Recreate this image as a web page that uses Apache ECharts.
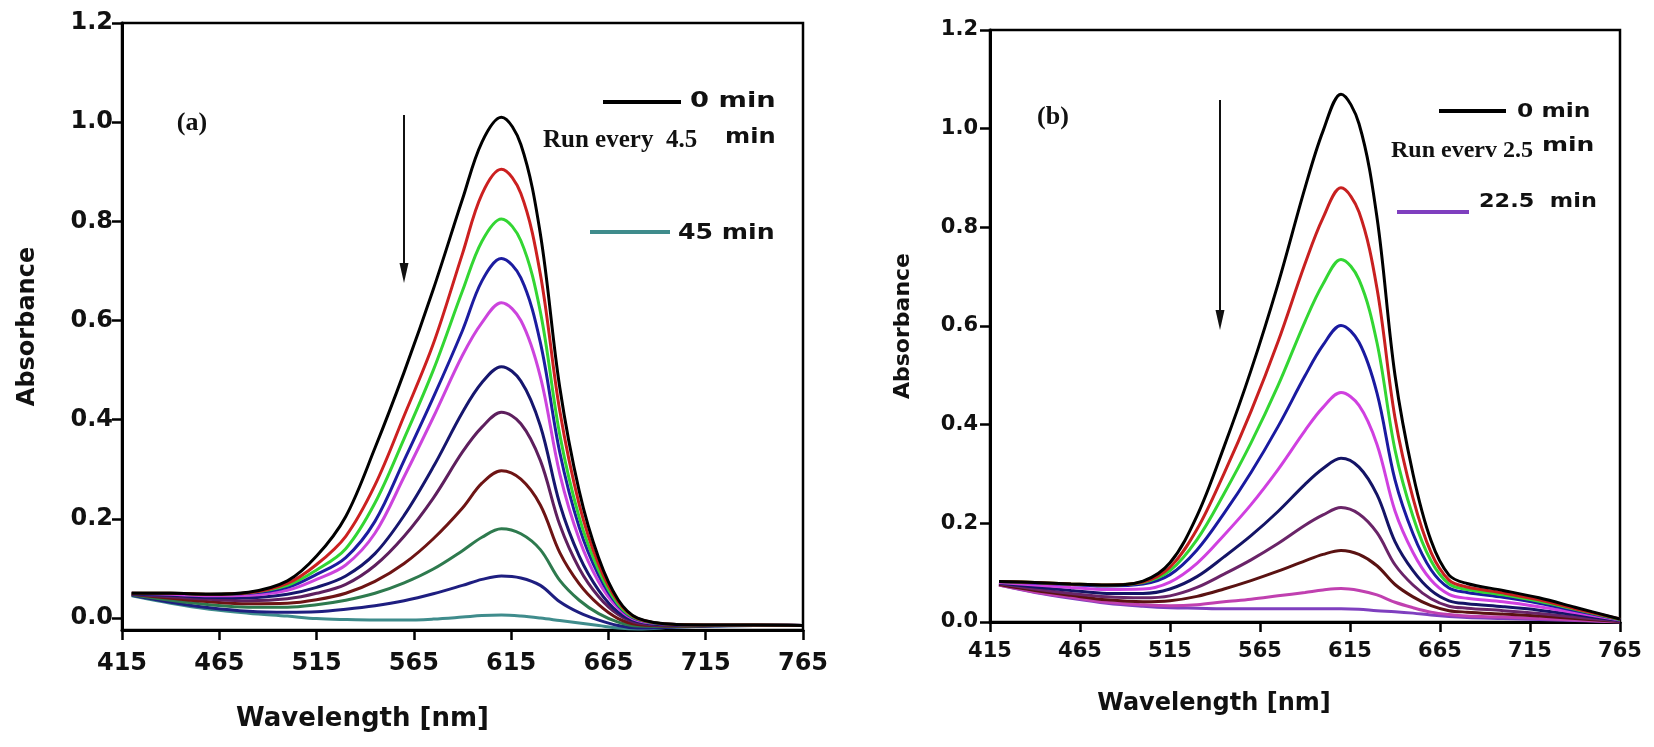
<!DOCTYPE html>
<html>
<head>
<meta charset="utf-8">
<title>Absorbance spectra (a) and (b)</title>
<script src="https://cdn.jsdelivr.net/npm/echarts@6/dist/echarts.min.js"></script>
<style>
  html, body { margin: 0; padding: 0; background: #fff; }
  #chart { width: 1654px; height: 747px; }
</style>
</head>
<body>
<div id="chart"></div>
<script>
// wavelength grid (nm), shared by every spectrum
var wl = [420, 440, 460, 480, 500, 515, 530, 545, 560, 575, 590, 600, 610, 620, 630, 640, 650, 660, 670, 680, 700, 720, 740, 765];

// panel (a): run every 4.5 min, 0 -> 45 min
var a0  = [0.050, 0.050, 0.048, 0.052, 0.075, 0.125, 0.205, 0.343, 0.496, 0.663, 0.845, 0.960, 1.010, 0.955, 0.775, 0.465, 0.256, 0.121, 0.037, 0.000, -0.013, -0.014, -0.014, -0.015];
var a1  = [0.050, 0.050, 0.048, 0.051, 0.070, 0.108, 0.165, 0.268, 0.408, 0.553, 0.735, 0.855, 0.905, 0.856, 0.694, 0.418, 0.229, 0.108, 0.033, -0.001, -0.013, -0.014, -0.014, -0.015];
var a2  = [0.050, 0.050, 0.048, 0.051, 0.066, 0.097, 0.140, 0.232, 0.362, 0.500, 0.660, 0.760, 0.805, 0.761, 0.618, 0.370, 0.203, 0.096, 0.028, -0.002, -0.013, -0.014, -0.014, -0.015];
var a3  = [0.050, 0.050, 0.048, 0.050, 0.062, 0.088, 0.122, 0.195, 0.318, 0.445, 0.580, 0.680, 0.725, 0.686, 0.556, 0.334, 0.183, 0.086, 0.025, -0.003, -0.013, -0.014, -0.014, -0.015];
var a4  = [0.050, 0.048, 0.045, 0.046, 0.056, 0.078, 0.107, 0.171, 0.285, 0.405, 0.530, 0.596, 0.636, 0.600, 0.487, 0.291, 0.159, 0.073, 0.020, -0.005, -0.013, -0.014, -0.014, -0.015];
var a5  = [0.049, 0.046, 0.042, 0.041, 0.048, 0.062, 0.085, 0.130, 0.207, 0.305, 0.415, 0.475, 0.507, 0.478, 0.388, 0.230, 0.125, 0.056, 0.012, -0.007, -0.014, -0.014, -0.014, -0.015];
var a6  = [0.048, 0.043, 0.038, 0.035, 0.039, 0.050, 0.068, 0.106, 0.165, 0.242, 0.335, 0.385, 0.415, 0.392, 0.318, 0.188, 0.100, 0.043, 0.007, -0.010, -0.015, -0.015, -0.014, -0.015];
var a7  = [0.048, 0.040, 0.033, 0.029, 0.030, 0.037, 0.050, 0.074, 0.110, 0.160, 0.222, 0.272, 0.297, 0.280, 0.228, 0.132, 0.069, 0.027, -0.001, -0.013, -0.016, -0.015, -0.015, -0.015];
var a8  = [0.047, 0.036, 0.027, 0.022, 0.022, 0.027, 0.036, 0.050, 0.071, 0.099, 0.136, 0.163, 0.180, 0.170, 0.138, 0.076, 0.036, 0.009, -0.008, -0.016, -0.017, -0.015, -0.015, -0.015];
var a9  = [0.046, 0.032, 0.021, 0.014, 0.012, 0.013, 0.018, 0.025, 0.035, 0.049, 0.066, 0.078, 0.085, 0.081, 0.066, 0.033, 0.011, -0.004, -0.015, -0.020, -0.018, -0.016, -0.015, -0.015];
var a10 = [0.045, 0.030, 0.018, 0.010, 0.004, -0.001, -0.003, -0.004, -0.004, -0.002, 0.002, 0.005, 0.006, 0.004, 0.000, -0.005, -0.010, -0.015, -0.020, -0.022, -0.018, -0.016, -0.015, -0.015];
var aRuns = [a0, a1, a2, a3, a4, a5, a6, a7, a8, a9, a10];
var aNames = ['0 min', '4.5 min', '9 min', '13.5 min', '18 min', '22.5 min', '27 min', '31.5 min', '36 min', '40.5 min', '45 min'];
var aColors = ['#000000', '#cc2020', '#33d633', '#1c1ca0', '#cc44dd', '#16166e', '#5e1f5e', '#6e1414', '#2e7a4e', '#1e1e80', '#3f8c8c'];

// panel (b): run every 2.5 min, 0 -> 22.5 min
var b0 = [0.082, 0.080, 0.077, 0.075, 0.083, 0.120, 0.215, 0.355, 0.510, 0.685, 0.880, 0.995, 1.070, 1.010, 0.820, 0.500, 0.300, 0.165, 0.095, 0.078, 0.064, 0.049, 0.030, 0.006];
var b1 = [0.082, 0.080, 0.077, 0.075, 0.081, 0.111, 0.188, 0.301, 0.427, 0.568, 0.726, 0.819, 0.880, 0.831, 0.676, 0.414, 0.251, 0.141, 0.085, 0.071, 0.059, 0.045, 0.027, 0.006];
var b2 = [0.082, 0.080, 0.077, 0.075, 0.080, 0.104, 0.167, 0.260, 0.363, 0.479, 0.609, 0.685, 0.735, 0.694, 0.566, 0.349, 0.214, 0.124, 0.077, 0.066, 0.055, 0.042, 0.026, 0.005];
var b3 = [0.082, 0.079, 0.076, 0.073, 0.077, 0.096, 0.146, 0.220, 0.303, 0.396, 0.499, 0.561, 0.601, 0.567, 0.464, 0.288, 0.179, 0.106, 0.069, 0.060, 0.050, 0.038, 0.023, 0.005];
var b4 = [0.080, 0.075, 0.070, 0.066, 0.067, 0.081, 0.119, 0.176, 0.238, 0.309, 0.388, 0.435, 0.465, 0.439, 0.360, 0.225, 0.141, 0.085, 0.056, 0.048, 0.041, 0.031, 0.019, 0.004];
var b5 = [0.079, 0.071, 0.064, 0.058, 0.058, 0.067, 0.092, 0.132, 0.175, 0.224, 0.279, 0.311, 0.332, 0.314, 0.258, 0.163, 0.104, 0.064, 0.043, 0.037, 0.031, 0.024, 0.015, 0.003];
var b6 = [0.078, 0.067, 0.058, 0.051, 0.049, 0.053, 0.070, 0.097, 0.126, 0.159, 0.196, 0.217, 0.232, 0.219, 0.181, 0.116, 0.075, 0.047, 0.032, 0.028, 0.023, 0.017, 0.010, 0.002];
var b7 = [0.076, 0.064, 0.054, 0.045, 0.041, 0.043, 0.052, 0.067, 0.084, 0.103, 0.124, 0.137, 0.145, 0.137, 0.114, 0.076, 0.051, 0.033, 0.023, 0.020, 0.016, 0.012, 0.007, 0.001];
var b8 = [0.075, 0.061, 0.050, 0.040, 0.035, 0.033, 0.035, 0.041, 0.046, 0.053, 0.060, 0.065, 0.068, 0.064, 0.055, 0.040, 0.029, 0.020, 0.015, 0.012, 0.010, 0.007, 0.004, 0.000];
var b9 = [0.075, 0.060, 0.048, 0.038, 0.032, 0.029, 0.028, 0.027, 0.027, 0.027, 0.027, 0.027, 0.027, 0.026, 0.023, 0.021, 0.018, 0.014, 0.011, 0.009, 0.007, 0.005, 0.003, 0.000];
var bRuns = [b0, b1, b2, b3, b4, b5, b6, b7, b8, b9];
var bNames = ['0 min', '2.5 min', '5 min', '7.5 min', '10 min', '12.5 min', '15 min', '17.5 min', '20 min', '22.5 min'];
var bColors = ['#000000', '#c82020', '#33d633', '#1a1aa0', '#d040e0', '#141466', '#6a2468', '#5a1212', '#c040b0', '#7f3fbf'];

var yTicks = [0, 0.2, 0.4, 0.6, 0.8, 1.0, 1.2];

var SANS = 'DejaVu Sans';
var SERIF = 'Liberation Serif';

function toPoints(vals) {
	return wl.map(function(w, i) {
		return [w, vals[i]];
	});
}

var series = [];
aRuns.forEach(function(run, i) {
	series.push({
		name: 'a ' + aNames[i],
		type: 'line',
		xAxisIndex: 0,
		yAxisIndex: 0,
		data: toPoints(run),
		smooth: 0.35,
		showSymbol: false,
		z: 20 - i,
		lineStyle: { width: 3, color: aColors[i] },
		itemStyle: { color: aColors[i] }
	});
});
bRuns.forEach(function(run, i) {
	series.push({
		name: 'b ' + bNames[i],
		type: 'line',
		xAxisIndex: 1,
		yAxisIndex: 1,
		data: toPoints(run),
		smooth: 0.35,
		showSymbol: false,
		z: 20 - i,
		lineStyle: { width: 3, color: bColors[i] },
		itemStyle: { color: bColors[i] }
	});
});

function xAxisFor(gridIndex, fontSize, margin, nameSize, nameGap, shift) {
	return {
		type: 'value',
		gridIndex: gridIndex,
		min: 415,
		max: 765,
		interval: 50,
		name: 'Wavelength [nm]',
		nameLocation: 'middle',
		nameGap: nameGap,
		nameTextStyle: {
			fontFamily: SANS,
			fontWeight: 'bold',
			fontSize: nameSize,
			color: '#111',
			padding: [0, shift * 2, 0, 0]
		},
		axisLine: { onZero: false, lineStyle: { color: '#000', width: 3 } },
		axisTick: { length: 10, lineStyle: { color: '#000', width: 2.5 } },
		axisLabel: {
			fontFamily: SANS,
			fontWeight: 'bold',
			fontSize: fontSize,
			color: '#111',
			margin: margin
		},
		splitLine: { show: false }
	};
}

function yAxisFor(gridIndex, min, fontSize, margin, nameSize, nameGap) {
	return {
		type: 'value',
		gridIndex: gridIndex,
		min: min,
		max: 1.2,
		name: 'Absorbance',
		nameLocation: 'middle',
		nameGap: nameGap,
		nameTextStyle: {
			fontFamily: SANS,
			fontWeight: 'bold',
			fontSize: nameSize,
			color: '#111'
		},
		axisLine: { onZero: false, lineStyle: { color: '#000', width: 3 } },
		axisTick: { length: 10, customValues: yTicks, lineStyle: { color: '#000', width: 2.5 } },
		axisLabel: {
			customValues: yTicks,
			fontFamily: SANS,
			fontWeight: 'bold',
			fontSize: fontSize,
			color: '#111',
			margin: margin,
			formatter: function(v) {
				return v.toFixed(1);
			}
		},
		splitLine: { show: false }
	};
}

// free text; sx stretches it sideways like the scanned original
function txt(text, x, y, family, size, sx, align) {
	return {
		type: 'text',
		x: x,
		y: y,
		scaleX: sx || 1,
		z: 100,
		style: {
			text: text,
			fontFamily: family,
			fontWeight: 'bold',
			fontSize: size,
			fill: '#111',
			align: align || 'left',
			verticalAlign: 'middle'
		}
	};
}

function seg(x1, y1, x2, y2, color, width) {
	return {
		type: 'line',
		z: 100,
		shape: { x1: x1, y1: y1, x2: x2, y2: y2 },
		style: { stroke: color, lineWidth: width }
	};
}

function arrowDown(x, y1, y2) {
	return [
		seg(x, y1, x, y2 - 16, '#111', 2),
		{
			type: 'polygon',
			z: 100,
			shape: { points: [[x - 4.5, y2 - 20], [x + 4.5, y2 - 20], [x, y2]] },
			style: { fill: '#111' }
		}
	];
}

var graphics = [
	txt('(a)', 192, 123, SERIF, 26, 1, 'center'),
	txt('(b)', 1053, 117, SERIF, 26, 1, 'center'),
	// notes, panel (a)
	seg(603, 102, 681, 102, '#000', 4),
	txt('0 min', 690, 102, SANS, 21, 1.3),
	txt('Run every  4.5', 543, 141, SERIF, 25),
	txt('min', 725, 138, SANS, 21, 1.15),
	seg(590, 232, 670, 232, '#3f8c8c', 4),
	txt('45 min', 678, 234, SANS, 21, 1.2),
	// notes, panel (b)
	seg(1439, 111, 1506, 111, '#000', 4),
	txt('0 min', 1517, 112, SANS, 20, 1.17),
	txt('Run everv 2.5', 1391, 151, SERIF, 24),
	txt('min', 1542, 146, SANS, 20, 1.25),
	seg(1397, 212, 1469, 212, '#7f3fbf', 4),
	txt('22.5  min', 1479, 202, SANS, 20, 1.12)
].concat(arrowDown(404, 115, 283), arrowDown(1220, 100, 330));

var chart = echarts.init(document.getElementById('chart'));

var option = {
	backgroundColor: '#ffffff',
	animation: false,
	grid: [{
		left: 122,
		top: 23,
		width: 681,
		height: 607,
		show: true,
		borderColor: '#000',
		borderWidth: 2.5
	}, {
		left: 990,
		top: 30,
		width: 630,
		height: 592,
		show: true,
		borderColor: '#000',
		borderWidth: 2.5
	}],
	xAxis: [
		xAxisFor(0, 24, 22, 26, 76, 100),
		xAxisFor(1, 21, 19, 24, 70, 91)
	],
	yAxis: [
		yAxisFor(0, -0.024, 24, 9, 24, 82),
		yAxisFor(1, 0, 21, 12, 22, 76)
	],
	series: series,
	graphic: graphics
};

chart.setOption(option);
</script>
</body>
</html>
